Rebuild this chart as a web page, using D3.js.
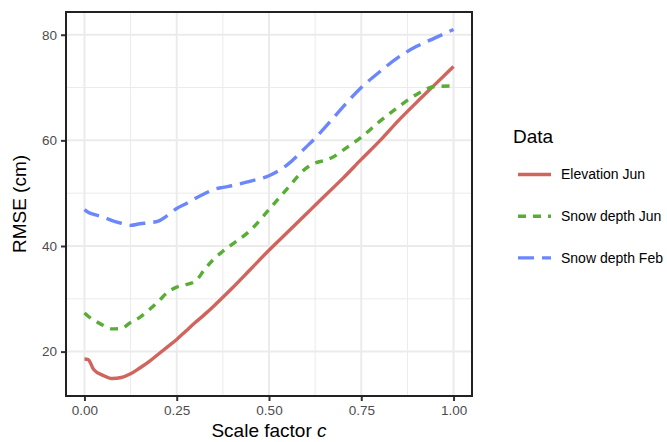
<!DOCTYPE html>
<html>
<head>
<meta charset="utf-8">
<script src="https://d3js.org/d3.v7.min.js"></script>
<style>
  body { margin: 0; background: #fff; }
  text { font-family: "Liberation Sans", Arial, sans-serif; }
</style>
<title>RMSE vs scale factor</title>
</head>
<body>
<svg width="667" height="442"></svg>
<script>
// data
const scale = [0, 0.01, 0.025, 0.05, 0.075, 0.1, 0.125, 0.15, 0.175, 0.2, 0.225, 0.25, 0.275, 0.3, 0.325, 0.35, 0.375, 0.4, 0.45, 0.5, 0.55, 0.6, 0.625, 0.65, 0.675, 0.7, 0.75, 0.8, 0.85, 0.9, 0.95, 1.0];

const elevationJun = [18.6, 18.5, 16.6, 15.5, 14.9, 15.1, 15.8, 16.9, 18.1, 19.5, 20.9, 22.3, 23.9, 25.5, 27.0, 28.6, 30.3, 32.0, 35.6, 39.2, 42.6, 46.0, 47.7, 49.4, 51.1, 52.8, 56.4, 59.9, 63.7, 67.2, 70.6, 74.0];
const snowDepthJun = [27.3, 26.7, 26.0, 25.0, 24.3, 24.4, 25.5, 26.5, 27.9, 29.5, 31.2, 32.2, 32.7, 33.3, 35.5, 37.5, 39.0, 40.3, 43.0, 46.9, 50.9, 54.7, 55.7, 56.2, 56.9, 58.1, 60.6, 63.6, 66.3, 68.7, 70.2, 70.3];
const snowDepthFeb = [46.9, 46.4, 46.0, 45.5, 44.8, 44.3, 43.9, 44.2, 44.4, 44.7, 45.8, 47.1, 48.0, 49.0, 49.9, 50.7, 51.1, 51.4, 52.3, 53.3, 55.4, 58.7, 60.4, 62.3, 64.3, 66.3, 70.0, 73.0, 75.7, 77.8, 79.4, 81.0];

const seriesNames = ["Elevation Jun", "Snow depth Jun", "Snow depth Feb"];
const seriesColors = ["#d0655d", "#58ad35", "#6b87fb"];
const seriesDash = [null, "8,7", "16,8"];

const xBreaks = [0, 0.25, 0.5, 0.75, 1.0];
const xMinor = [0.125, 0.375, 0.625, 0.875];
const yBreaks = [20, 40, 60, 80];
const yMinor = [30, 50, 70];

const svg = d3.select("svg");
const panel = { left: 66, top: 12, right: 472, bottom: 396 };

// ggplot-like 5% expansion
const allY = elevationJun.concat(snowDepthJun, snowDepthFeb);
const yExt = d3.extent(allY), yPad = (yExt[1] - yExt[0]) * 0.05;
const x = d3.scaleLinear().domain([-0.05, 1.05]).range([panel.left, panel.right]);
const y = d3.scaleLinear().domain([yExt[0] - yPad, yExt[1] + yPad]).range([panel.bottom, panel.top]);

const grid = svg.append("g");
// minor grid
grid.selectAll(".mx").data(xMinor).enter().append("line")
  .attr("x1", d => x(d)).attr("x2", d => x(d))
  .attr("y1", panel.top).attr("y2", panel.bottom)
  .attr("stroke", "#ebebeb").attr("stroke-width", 1);
grid.selectAll(".my").data(yMinor).enter().append("line")
  .attr("y1", d => y(d)).attr("y2", d => y(d))
  .attr("x1", panel.left).attr("x2", panel.right)
  .attr("stroke", "#ebebeb").attr("stroke-width", 1);
// major grid
grid.selectAll(".gx").data(xBreaks).enter().append("line")
  .attr("x1", d => x(d)).attr("x2", d => x(d))
  .attr("y1", panel.top).attr("y2", panel.bottom)
  .attr("stroke", "#ebebeb").attr("stroke-width", 2);
grid.selectAll(".gy").data(yBreaks).enter().append("line")
  .attr("y1", d => y(d)).attr("y2", d => y(d))
  .attr("x1", panel.left).attr("x2", panel.right)
  .attr("stroke", "#ebebeb").attr("stroke-width", 2);

// lines
const line = d3.line().x((d, i) => x(scale[i])).y(d => y(d)).curve(d3.curveMonotoneX);
const allSeries = [elevationJun, snowDepthJun, snowDepthFeb];
svg.append("g").selectAll("path").data(allSeries).enter().append("path")
  .attr("d", d => line(d))
  .attr("fill", "none")
  .attr("stroke", (d, i) => seriesColors[i])
  .attr("stroke-width", 3.4)
  .attr("stroke-dasharray", (d, i) => seriesDash[i]);

// panel border
svg.append("rect")
  .attr("x", panel.left).attr("y", panel.top)
  .attr("width", panel.right - panel.left).attr("height", panel.bottom - panel.top)
  .attr("fill", "none").attr("stroke", "#222").attr("stroke-width", 2);

// axes
const xAxis = svg.append("g").attr("transform", "translate(0," + (panel.bottom + 1) + ")")
  .call(d3.axisBottom(x).tickValues(xBreaks).tickFormat(d3.format(".2f")).tickSize(4).tickPadding(4));
const yAxis = svg.append("g").attr("transform", "translate(" + (panel.left - 1) + ",0)")
  .call(d3.axisLeft(y).tickValues(yBreaks).tickSize(4).tickPadding(4));
[xAxis, yAxis].forEach(a => {
  a.select(".domain").remove();
  a.selectAll(".tick line").attr("stroke", "#333").attr("stroke-width", 2);
  a.selectAll(".tick text").attr("fill", "#4d4d4d").style("font-size", "13.5px")
    .style("font-family", "'Liberation Sans', Arial, sans-serif");
});

// axis titles
const xt = svg.append("text")
  .attr("x", (panel.left + panel.right) / 2).attr("y", 437)
  .attr("text-anchor", "middle").style("font-size", "19px").attr("fill", "#000");
xt.append("tspan").text("Scale factor ");
xt.append("tspan").attr("font-style", "italic").text("c");

svg.append("text")
  .attr("transform", "translate(26," + ((panel.top + panel.bottom) / 2) + ") rotate(-90)")
  .attr("text-anchor", "middle").style("font-size", "19px").attr("fill", "#000")
  .text("RMSE (cm)");

// legend
const legend = svg.append("g");
legend.append("text").attr("x", 513).attr("y", 143).style("font-size", "19px").text("Data");
const items = legend.selectAll(".item").data(seriesNames).enter().append("g")
  .attr("transform", (d, i) => "translate(0," + (174.5 + i * 41.7) + ")");
items.append("line")
  .attr("x1", 518).attr("x2", 551).attr("y1", 0).attr("y2", 0)
  .attr("stroke", (d, i) => seriesColors[i])
  .attr("stroke-width", 3.4)
  .attr("stroke-dasharray", (d, i) => seriesDash[i]);
items.append("text")
  .attr("x", 561).attr("y", 0).attr("dy", "0.35em")
  .style("font-size", "14px").attr("fill", "#000")
  .text(d => d);
</script>
</body>
</html>
